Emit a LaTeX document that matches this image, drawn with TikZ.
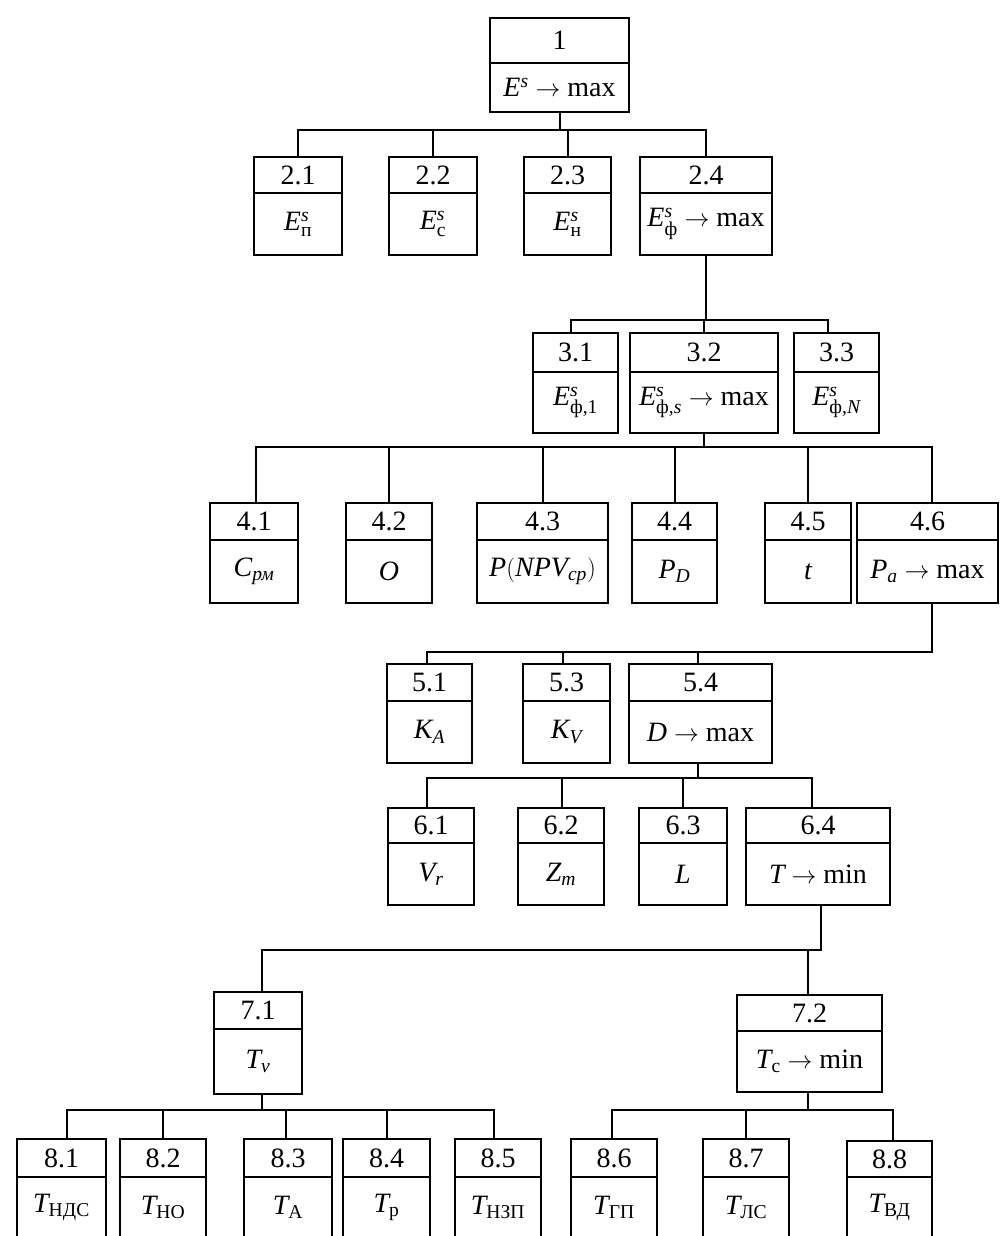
\documentclass[tikz,border=0pt]{standalone}
\usepackage{fontspec}
\setmainfont{Liberation Serif}
\usepackage{amsmath}
\tikzset{
  lw/.style={line width=2pt},
  boxst/.style={draw, lw, rectangle, inner sep=0pt, outer sep=0pt},
  txt/.style={font=\fontsize{28}{32}\selectfont, inner sep=0pt},
  conn/.style={lw}
}
\newcommand\tbox[8]{%
  \node[boxst, anchor=north west, minimum width={(#4-#2)*1pt}, minimum height={(#5-#3)*1pt}] (#1) at (#2,-#3) {};
  \draw[lw] (#2,-#6) -- (#4,-#6);
  \node[txt] at ({(#2+#4)/2},{-(#3+#6)/2}) {#7};
  \node[txt] at ({(#2+#4)/2},{-(#6+#5)/2}) {#8};
}
\newcommand\tx[1]{\text{#1}}
\newcommand\mi[1]{\mathit{#1}}
\newcommand\ar{\mathrel{\rightarrow}}
\begin{document}
\begin{tikzpicture}[x=1pt,y=1pt]
\useasboundingbox (0,0) rectangle (999,-1236);
\clip (0,0) rectangle (999,-1236);
\fill[white] (0,0) rectangle (999,-1236);
% level 1
\tbox{n1}{490}{18}{629}{112}{63}{1}{$\mi{E}^{\mi{s}}\ar\tx{max}$}
% level 2
\tbox{n21}{254}{157}{342}{255}{193}{2.1}{$\mi{E}^{\mi{s}}_{\tx{п}}$}
\tbox{n22}{389}{157}{477}{255}{193}{2.2}{$\mi{E}^{\mi{s}}_{\tx{с}}$}
\tbox{n23}{524}{157}{611}{255}{193}{2.3}{$\mi{E}^{\mi{s}}_{\tx{н}}$}
\tbox{n24}{640}{157}{772}{255}{193}{2.4}{$\mi{E}^{\mi{s}}_{\tx{ф}}\ar\tx{max}$}
% level 3
\tbox{n31}{533}{333}{618}{433}{372}{3.1}{$\mi{E}^{\mi{s}}_{\tx{ф,1}}$}
\tbox{n32}{630}{333}{778}{433}{372}{3.2}{$\mi{E}^{\mi{s}}_{\tx{ф,}\mi{s}}\ar\tx{max}$}
\tbox{n33}{794}{333}{879}{433}{372}{3.3}{$\mi{E}^{\mi{s}}_{\tx{ф,}\mi{N}}$}
% level 4
\tbox{n41}{210}{503}{298}{603}{540}{4.1}{$\mi{C}_{\tx{\itshape рм}}$}
\tbox{n42}{346}{503}{432}{603}{540}{4.2}{$\mi{O}$}
\tbox{n43}{477}{503}{608}{603}{540}{4.3}{$\mi{P}(\mi{NPV}_{\mi{cp}})$}
\tbox{n44}{632}{503}{717}{603}{540}{4.4}{$\mi{P}_{\mi{D}}$}
\tbox{n45}{765}{503}{851}{603}{540}{4.5}{$\mi{t}$}
\tbox{n46}{857}{503}{998}{603}{540}{4.6}{$\mi{P}_{\mi{a}}\ar\tx{max}$}
% level 5
\tbox{n51}{387}{664}{472}{763}{701}{5.1}{$\mi{K}_{\mi{A}}$}
\tbox{n53}{523}{664}{610}{763}{701}{5.3}{$\mi{K}_{\mi{V}}$}
\tbox{n54}{629}{664}{772}{763}{701}{5.4}{$\mi{D}\ar\tx{max}$}
% level 6
\tbox{n61}{388}{808}{474}{905}{843}{6.1}{$\mi{V}_{\mi{r}}$}
\tbox{n62}{518}{808}{604}{905}{843}{6.2}{$\mi{Z}_{\mi{m}}$}
\tbox{n63}{639}{808}{727}{905}{843}{6.3}{$\mi{L}$}
\tbox{n64}{746}{808}{890}{905}{843}{6.4}{$\mi{T}\ar\tx{min}$}
% level 7
\tbox{n71}{214}{992}{302}{1094}{1029}{7.1}{$\mi{T}_{\mi{v}}$}
\tbox{n72}{737}{995}{882}{1092}{1031}{7.2}{$\mi{T}_{\tx{с}}\ar\tx{min}$}
% level 8
\tbox{n81}{17}{1139}{106}{1238}{1177}{8.1}{$\mi{T}_{\tx{НДС}}$}
\tbox{n82}{120}{1139}{206}{1238}{1177}{8.2}{$\mi{T}_{\tx{НО}}$}
\tbox{n83}{244}{1139}{332}{1238}{1177}{8.3}{$\mi{T}_{\tx{А}}$}
\tbox{n84}{343}{1139}{430}{1238}{1177}{8.4}{$\mi{T}_{\tx{р}}$}
\tbox{n85}{455}{1139}{541}{1238}{1177}{8.5}{$\mi{T}_{\tx{НЗП}}$}
\tbox{n86}{571}{1139}{657}{1238}{1177}{8.6}{$\mi{T}_{\tx{ГП}}$}
\tbox{n87}{703}{1139}{789}{1238}{1177}{8.7}{$\mi{T}_{\tx{ЛС}}$}
\tbox{n88}{847}{1141}{932}{1238}{1177}{8.8}{$\mi{T}_{\tx{ВД}}$}
% connectors level 1-2
\coordinate (c1) at (0,-130);
\draw[conn] (n1.south) -- (n1.south |- c1);
\draw[conn] (n21.north) -- (n21.north |- c1) -- (n24.north |- c1) -- (n24.north);
\draw[conn] (n22.north) -- (n22.north |- c1);
\draw[conn] (n23.north) -- (n23.north |- c1);
% level 2-3
\coordinate (c2) at (0,-320);
\draw[conn] (n24.south) -- (n24.south |- c2);
\draw[conn] ([xshift=-5pt]n31.north) -- ([xshift=-5pt]n31.north |- c2) -- ([xshift=-9pt]n33.north |- c2) -- ([xshift=-9pt]n33.north);
\draw[conn] (n32.north) -- (n32.north |- c2);
% level 3-4
\coordinate (c3) at (0,-447);
\draw[conn] (n32.south) -- (n32.south |- c3);
\draw[conn] ([xshift=2pt]n41.north) -- ([xshift=2pt]n41.north |- c3) -- ([xshift=4pt]n46.north |- c3) -- ([xshift=4pt]n46.north);
\draw[conn] (n42.north) -- (n42.north |- c3);
\draw[conn] (n43.north) -- (n43.north |- c3);
\draw[conn] (n44.north) -- (n44.north |- c3);
\draw[conn] (n45.north) -- (n45.north |- c3);
% level 4-5
\coordinate (c4) at (0,-652);
\draw[conn] ([xshift=4pt]n46.south) -- ([xshift=4pt]n46.south |- c4) -- ([xshift=-3pt]n51.north |- c4) -- ([xshift=-3pt]n51.north);
\draw[conn] ([xshift=-4pt]n53.north) -- ([xshift=-4pt]n53.north |- c4);
\draw[conn] ([xshift=-3pt]n54.north) -- ([xshift=-3pt]n54.north |- c4);
% level 5-6
\coordinate (c5) at (0,-778);
\draw[conn] ([xshift=-3pt]n54.south) -- ([xshift=-3pt]n54.south |- c5);
\draw[conn] ([xshift=-4pt]n61.north) -- ([xshift=-4pt]n61.north |- c5) -- ([xshift=-6pt]n64.north |- c5) -- ([xshift=-6pt]n64.north);
\draw[conn] ([xshift=1pt]n62.north) -- ([xshift=1pt]n62.north |- c5);
\draw[conn] (n63.north) -- (n63.north |- c5);
% level 6-7
\coordinate (c6) at (0,-950);
\draw[conn] ([xshift=3pt]n64.south) -- ([xshift=3pt]n64.south |- c6) -- ([xshift=4pt]n71.north |- c6) -- ([xshift=4pt]n71.north);
\draw[conn] ([xshift=-2pt]n72.north) -- ([xshift=-2pt]n72.north |- c6);
% level 7-8 left
\coordinate (c7) at (0,-1110);
\draw[conn] ([xshift=4pt]n71.south) -- ([xshift=4pt]n71.south |- c7);
\draw[conn] ([xshift=5pt]n81.north) -- ([xshift=5pt]n81.north |- c7) -- ([xshift=-4pt]n85.north |- c7) -- ([xshift=-4pt]n85.north);
\draw[conn] (n82.north) -- (n82.north |- c7);
\draw[conn] ([xshift=-2pt]n83.north) -- ([xshift=-2pt]n83.north |- c7);
\draw[conn] (n84.north) -- (n84.north |- c7);
% level 7-8 right
\draw[conn] ([xshift=-2pt]n72.south) -- ([xshift=-2pt]n72.south |- c7);
\draw[conn] ([xshift=-2pt]n86.north) -- ([xshift=-2pt]n86.north |- c7) -- ([xshift=3pt]n88.north |- c7) -- ([xshift=3pt]n88.north);
\draw[conn] (n87.north) -- (n87.north |- c7);
\end{tikzpicture}
\end{document}
